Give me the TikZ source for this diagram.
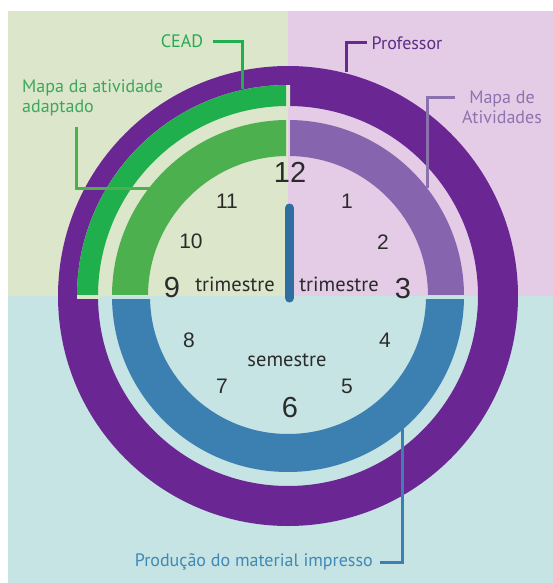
\documentclass[tikz,border=0pt]{standalone}
\usepackage{fontspec}
\setmainfont{PT Sans}
\newfontfamily\numfont{Liberation Sans}

\definecolor{bgGreen}{HTML}{DCE6CB}
\definecolor{bgLilac}{HTML}{E4CCE7}
\definecolor{bgTeal}{HTML}{C6E4E3}
\definecolor{ringPurple}{HTML}{6A2692}
\definecolor{ceadGreen}{HTML}{1FAF4C}
\definecolor{adaptGreen}{HTML}{4DB04E}
\definecolor{mapLilac}{HTML}{8764AE}
\definecolor{prodBlue}{HTML}{3C80B2}
\definecolor{handBlue}{HTML}{2F6EA0}
\definecolor{digitGray}{HTML}{2B2B2B}
\definecolor{ceadText}{HTML}{25AA52}
\definecolor{adaptText}{HTML}{3CA85C}
\definecolor{profText}{HTML}{5B2D84}
\definecolor{mapText}{HTML}{8C74AF}
\definecolor{prodText}{HTML}{4088B7}
\definecolor{mapLine}{HTML}{8B72AC}

\tikzset{
  band/.style={even odd rule},
  leader/.style={line width=3pt},
  bignum/.style={inner sep=0pt, text=digitGray, font=\numfont\fontsize{29}{29}\selectfont},
  smallnum/.style={inner sep=0pt, text=digitGray, font=\numfont\fontsize{21}{21}\selectfont},
  period/.style={inner sep=0pt, text=digitGray, font=\fontsize{20.5}{21}\selectfont},
  label/.style={inner sep=0pt, font=\fontsize{18}{20}\selectfont},
}

\begin{document}
\begin{tikzpicture}[x=1pt,y=-1pt]
\useasboundingbox (0,0) rectangle (553,583);
\fill[white] (0,0) rectangle (553,583);

% quadrant backgrounds
\fill[bgGreen] (8,11) rectangle (288,296);
\fill[bgLilac] (288,11) rectangle (553,296);
\fill[bgTeal] (8,296) rectangle (553,583);

\coordinate (C) at (288,296);

% outer ring: Professor
\fill[ringPurple, band] (C) circle[radius=230] (C) circle[radius=190];

% CEAD band in the upper-left quarter, separated from the purple ring
\begin{scope}
  \clip (0,0) rectangle (290,298);
  \fill[bgGreen, band] (C) circle[radius=211] (C) circle[radius=189];
\end{scope}
\begin{scope}
  \clip (0,0) rectangle (286,294);
  \fill[ceadGreen, band] (C) circle[radius=211] (C) circle[radius=190];
\end{scope}

% inner bands
\begin{scope}
  \clip (0,0) rectangle (286,294);
  \fill[adaptGreen, band] (C) circle[radius=176] (C) circle[radius=140];
\end{scope}
\begin{scope}
  \clip (290,0) rectangle (553,294);
  \fill[mapLilac, band] (C) circle[radius=176] (C) circle[radius=140];
\end{scope}
\begin{scope}
  \clip (0,299) rectangle (553,583);
  \fill[prodBlue, band] (C) circle[radius=176] (C) circle[radius=138];
\end{scope}

% clock hand
\coordinate (handTop) at (289.5,208);
\coordinate (handBot) at (289.5,298);
\draw[handBlue, line width=9pt, line cap=round] (handTop) -- (handBot);

% clock digits
\node[bignum] (n12) at (290,172) {12};
\node[smallnum] (n1) at (347,201) {1};
\node[smallnum] (n2) at (383,242) {2};
\node[bignum] (n3) at (403,289) {3};
\node[smallnum] (n4) at (385,340) {4};
\node[smallnum] (n5) at (347,386) {5};
\node[bignum] (n6) at (290,408) {6};
\node[smallnum] (n7) at (222,386) {7};
\node[smallnum] (n8) at (189,340) {8};
\node[bignum] (n9) at (172,288) {9};
\node[smallnum] (n10) at (191,241) {10};
\node[smallnum] (n11) at (227,201) {11};

% period names
\node[period] (triL) at (235,284) {trimestre};
\node[period] (triR) at (339,284) {trimestre};
\node[period] (sem) at (287,360) {semestre};

% labels
\node[label, text=ceadText] (cead) at (182,41) {CEAD};
\node[label, text=adaptText, align=left, anchor=north west] (adapt) at (22,80) {Mapa da atividade\\adaptado};
\node[label, text=profText] (prof) at (407,43) {Professor};
\node[label, text=mapText, align=center, anchor=north] (mapa) at (502,91) {Mapa de\\Atividades};
\node[label, text=prodText, anchor=base east] (prod) at (373,566) {Produção do material impresso};

% leader lines
\coordinate (ceadStart) at (213,42);
\coordinate (ceadEnd) at (242,89);
\draw[leader, ceadGreen] (ceadStart) -| (ceadEnd);

\coordinate (adaptStart) at (76,127);
\coordinate (adaptEnd) at (153,188);
\draw[leader, adaptGreen] (adaptStart) |- (adaptEnd);

\coordinate (profStart) at (367,43);
\coordinate (profEnd) at (346,72);
\draw[leader, ringPurple] (profStart) -| (profEnd);

\coordinate (mapaStart) at (455,98);
\coordinate (mapaEnd) at (427,188);
\draw[leader, mapLine] (mapaStart) -| (mapaEnd);

\coordinate (prodStart) at (380,562);
\coordinate (prodEnd) at (402,429);
\draw[leader, prodBlue] (prodStart) -| (prodEnd);
\end{tikzpicture}
\end{document}
